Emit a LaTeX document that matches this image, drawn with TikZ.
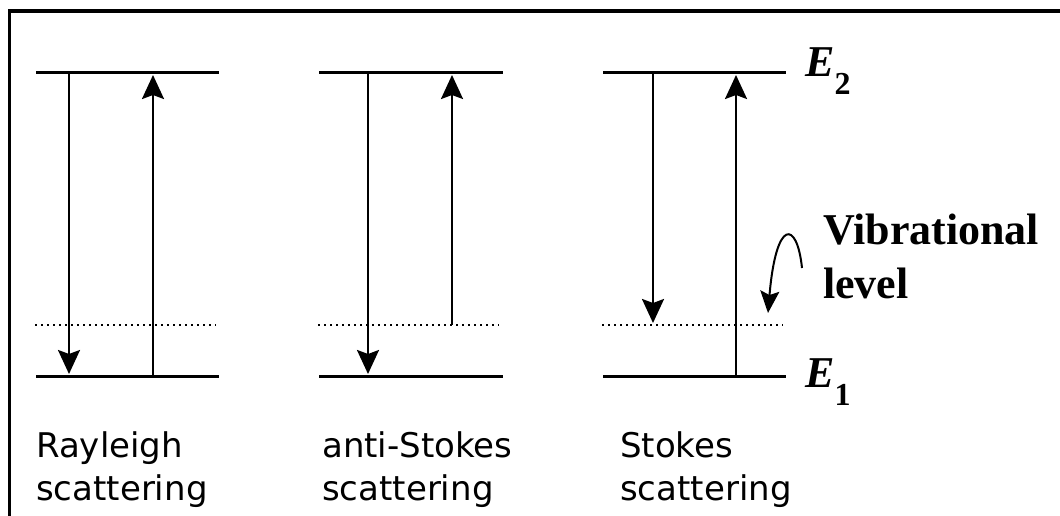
\documentclass[tikz,border=0pt]{standalone}
\usepackage{fontspec}
\setmainfont{Liberation Serif}
\setsansfont{DejaVu Sans}
\usetikzlibrary{arrows.meta,positioning}

\tikzset{
  level/.style={line width=3pt},
  virt/.style={line width=2.2pt, dash pattern=on 2.2pt off 3.8pt},
  trans/.style={line width=2.4pt, -{Stealth[length=24pt,width=22pt,inset=4pt]}},
  energy/.style={anchor=base west, inner sep=0pt, font=\fontsize{44}{52}\selectfont\bfseries},
  caption/.style={anchor=base west, inner sep=0pt, align=left, font=\fontsize{34}{43}\selectfont\sffamily}
}

\begin{document}
\begin{tikzpicture}[x=1pt,y=-1pt]
        \useasboundingbox (0,0) rectangle (1060,516);
        \draw[line width=3.2pt] (9.5,516) -- (9.5,11) -- (1060,11);

        % energy levels: upper, virtual (dotted), lower
        \draw[level] (36,73) -- (219,73);
        \draw[virt] (35,325) -- (216,325);
        \draw[level] (36,376) -- (219,376);
        \draw[level] (319,73) -- (503,73);
        \draw[virt] (318,325) -- (499,325);
        \draw[level] (319,376) -- (503,376);
        \draw[level] (603,73) -- (786,73);
        \draw[virt] (602,325) -- (783,325);
        \draw[level] (603,376) -- (786,376);

        % end points of the transitions
        \coordinate (ray1) at (69,73);
        \coordinate (ray2) at (69,374);
        \coordinate (ray3) at (153,376);
        \coordinate (ray4) at (153,75);
        \coordinate (as1) at (368,73);
        \coordinate (as2) at (368,374);
        \coordinate (as3) at (452,325);
        \coordinate (as4) at (452,75);
        \coordinate (st1) at (653,73);
        \coordinate (st2) at (653,323);
        \coordinate (st3) at (736,376);
        \coordinate (st4) at (736,75);

        \draw[trans] (ray1) -- (ray2);
        \draw[trans] (ray3) -- (ray4);
        \draw[trans] (as1) -- (as2);
        \draw[trans] (as3) -- (as4);
        \draw[trans] (st1) -- (st2);
        \draw[trans] (st3) -- (st4);

        % level names
        \node[energy] (E2) at (805,77) {\itshape E\raisebox{-18pt}{\fontsize{32}{36}\selectfont\upshape 2}};
        \node[energy] (E1) at (805,387) {\itshape E\raisebox{-18pt}{\fontsize{32}{36}\selectfont\upshape 1}};
        \node[energy, align=left, font=\fontsize{44}{54}\selectfont\bfseries] (vib) at (823,298) {Vibrational\\level};

        \coordinate (vibtail) at (802,268);
        \coordinate (vibtip) at (768,313);
        \draw[line width=2pt, -{Stealth[length=22pt,width=19pt,inset=4pt]}]
          (vibtail) .. controls (797,220) and (776,218) .. (vibtip);

        % captions
        \node[caption] (rayleigh) at (36,500) {Rayleigh\\scattering};
        \node[caption] (antistokes) at (322,500) {anti-Stokes\\scattering};
        \node[caption] (stokes) at (620,500) {Stokes\\scattering};
    \end{tikzpicture}
\end{document}
